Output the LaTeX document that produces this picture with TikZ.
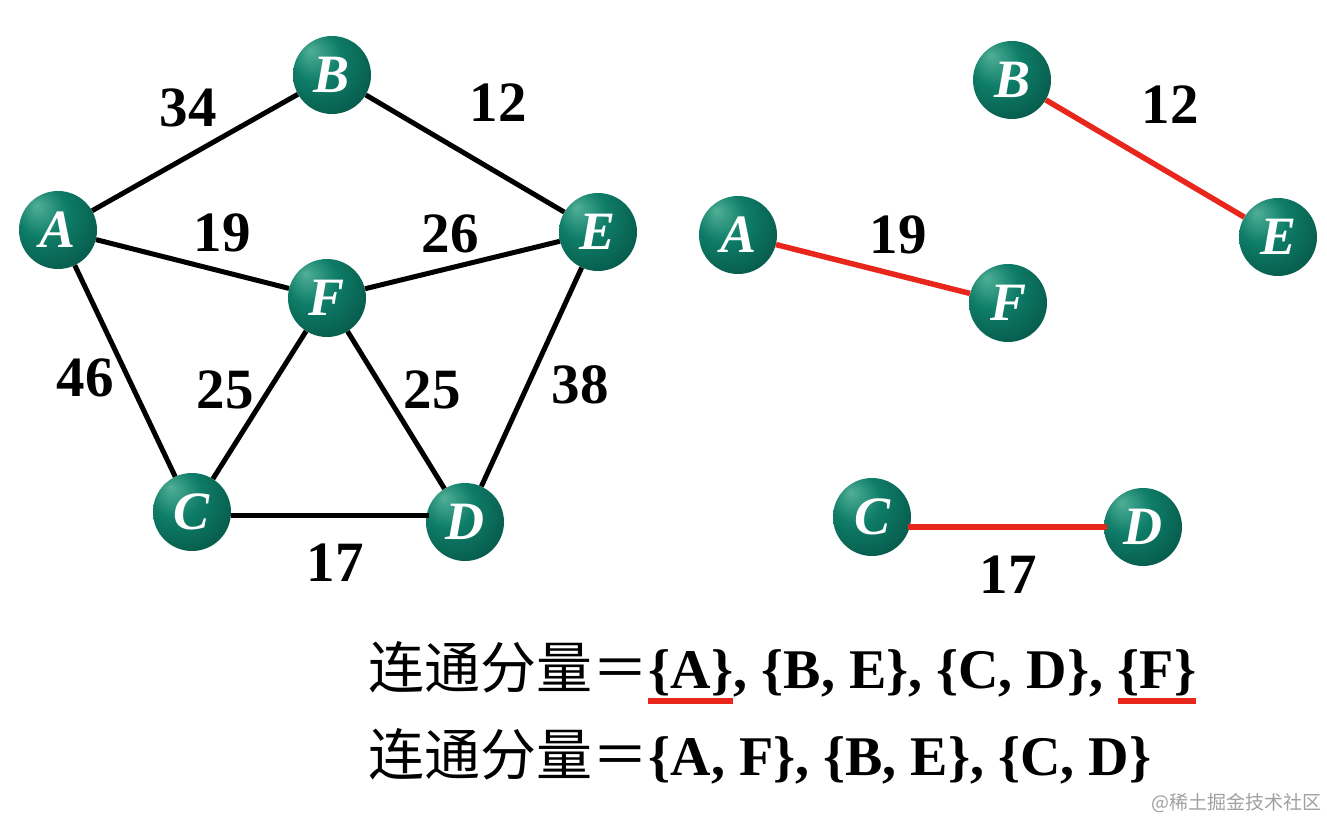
\documentclass[tikz,border=0pt]{standalone}
\usepackage{fontspec}
\setmainfont{Liberation Serif}
\newfontfamily\cjk{Noto Sans CJK SC}
\definecolor{ballhi}{RGB}{80,175,150}
\definecolor{ballmid}{RGB}{14,125,104}
\definecolor{balllo}{RGB}{4,78,64}
\definecolor{edgered}{RGB}{232,38,28}
\definecolor{wm}{RGB}{160,160,160}
\pgfdeclareradialshading{vball}{\pgfpoint{-14bp}{16bp}}{color(0bp)=(ballhi); color(16bp)=(ballmid); color(42bp)=(balllo); color(60bp)=(balllo)}
\tikzset{
  vtx/.style={circle, minimum size=78pt, inner sep=0pt, shading=vball, text=white,
    font=\fontsize{54pt}{54pt}\selectfont\bfseries\itshape},
  lbl/.style={inner sep=0pt, font=\fontsize{57pt}{57pt}\selectfont\bfseries},
  blk/.style={line width=5pt, black},
  red/.style={line width=5.5pt, edgered},
  txt/.style={inner sep=0pt, anchor=base west, font=\fontsize{56pt}{56pt}\selectfont\bfseries},
  cjktxt/.style={inner sep=0pt, anchor=base west, font=\cjk\fontsize{56pt}{56pt}\selectfont},
  uline/.style={line width=6pt, edgered}
}
\begin{document}
\begin{tikzpicture}[x=1pt,y=-1pt]
\useasboundingbox (0,0) rectangle (1327,820);
\fill[white] (0,0) rectangle (1327,820);
% left graph
\node[vtx] (B) at (332,75) {B};
\node[vtx] (A) at (58,230) {A};
\node[vtx] (E) at (598,232) {E};
\node[vtx] (F) at (327,298) {F};
\node[vtx] (C) at (192,512) {C};
\node[vtx] (D) at (465,522) {D};
\draw[blk] (A) -- (B);
\draw[blk] (B) -- (E);
\draw[blk] (A) -- (F);
\draw[blk] (F) -- (E);
\draw[blk] (A) -- (C);
\draw[blk] (E) -- (D);
\draw[blk] (F) -- (C);
\draw[blk] (F) -- (D);
\draw[blk] ([yshift=-3pt]C.east) -- ([yshift=-3pt,xshift=3pt]C.east -| D.west);
\node[lbl] (lAB) at (188,108) {34};
\node[lbl] (lBE) at (498,103) {12};
\node[lbl] (lAF) at (222,233) {19};
\node[lbl] (lFE) at (450,234) {26};
\node[lbl] (lAC) at (85,378) {46};
\node[lbl] (lFC) at (225,390) {25};
\node[lbl] (lFD) at (432,390) {25};
\node[lbl] (lED) at (580,385) {38};
\node[lbl] (lCD) at (335,563) {17};
% right forest
\node[vtx] (B2) at (1012,80) {B};
\node[vtx] (E2) at (1278,237) {E};
\node[vtx] (A2) at (738,235) {A};
\node[vtx] (F2) at (1008,303) {F};
\node[vtx] (C2) at (872,517) {C};
\node[vtx] (D2) at (1143,527) {D};
\draw[red] (B2) -- (E2);
\draw[red] (A2) -- (F2);
\draw[red] ([xshift=-3pt]C2.east |- D2.west) -- ([xshift=3pt]D2.west);
\node[lbl] (lBE2) at (1170,105) {12};
\node[lbl] (lAF2) at (898,235) {19};
\node[lbl] (lCD2) at (1008,575) {17};
% text line 1
\node[cjktxt] (p1) at (368,688) {连通分量＝};
\node[txt] (gA) at (p1.base east) {\{A\}};
\node[txt] (r1) at (gA.base east) {, \{B, E\}, \{C, D\},\hspace*{0.25em}};
\node[txt] (gF) at (r1.base east) {\{F\}};
\draw[uline] ([yshift=-13pt]gA.base west) -- ([yshift=-13pt]gA.base east);
\draw[uline] ([yshift=-13pt]gF.base west) -- ([yshift=-13pt]gF.base east);
% text line 2
\node[cjktxt] (p2) at (368,775) {连通分量＝};
\node[txt] (r2) at (p2.base east) {\{A, F\}, \{B, E\}, \{C, D\}};
% watermark
\node[inner sep=0pt, anchor=east, text=wm, font=\cjk\fontsize{19pt}{19pt}\selectfont] (wmk) at (1322,803) {@稀土掘金技术社区};
\end{tikzpicture}
\end{document}
